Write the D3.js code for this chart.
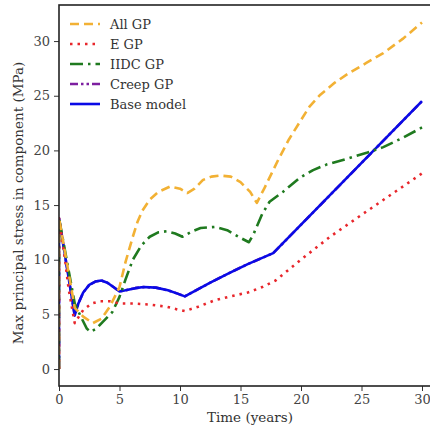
<!DOCTYPE html>
<html><head><meta charset="utf-8">
<script src="https://cdn.jsdelivr.net/npm/d3@7"></script>
<style>body{margin:0;background:#fff}svg{display:block}</style>
</head><body><svg id="c" width="430" height="431"></svg>
<script>
const xTicks = [0, 5, 10, 15, 20, 25, 30];
const yTicks = [0, 5, 10, 15, 20, 25, 30];

const timeAllGP = [0, 0, 1.3, 2.0, 2.8, 3.5, 4.2, 5.0, 5.5, 6.1, 6.5, 6.9, 7.5, 8.2, 9.2, 10.0, 10.6, 11.2, 11.9, 12.6, 13.3, 14.2, 15.0, 15.8, 16.35, 17.0, 18.1, 19.0, 19.9, 20.7, 21.6, 22.8, 24.0, 25.4, 26.8, 28.4, 30];
const stressAllGP = [0, 13.8, 5.6, 4.8, 4.2, 4.6, 5.7, 7.5, 9.8, 12.1, 13.5, 14.5, 15.5, 16.2, 16.7, 16.5, 16.1, 16.5, 17.3, 17.6, 17.7, 17.6, 17.1, 16.2, 15.2, 16.6, 19.1, 21.0, 22.6, 24.0, 25.1, 26.2, 27.1, 28.0, 28.9, 30.2, 31.7];

const timeEGP = [0, 0, 0.5, 0.8, 1.3, 1.7, 2.0, 2.7, 3.4, 4.2, 5.0, 6.1, 7.5, 8.9, 9.8, 10.4, 11.5, 12.9, 14.0, 15.6, 16.8, 17.9, 20.1, 22.4, 25.0, 27.5, 30];
const stressEGP = [0, 13.8, 10.0, 7.3, 4.2, 4.9, 5.4, 6.0, 6.2, 6.2, 6.0, 6.0, 5.9, 5.7, 5.45, 5.3, 5.7, 6.3, 6.6, 7.0, 7.5, 8.1, 10.1, 12.1, 14.1, 16.0, 17.9];

const timeIIDCGP = [0, 0, 1.3, 1.8, 2.3, 2.6, 3.1, 3.6, 4.4, 5.0, 5.5, 6.1, 6.8, 7.5, 8.2, 8.9, 9.6, 10.2, 11.0, 11.7, 12.9, 13.9, 15.0, 15.7, 16.1, 16.8, 17.4, 18.5, 19.9, 21.0, 22.1, 24.0, 25.5, 26.8, 28.5, 30];
const stressIIDCGP = [0, 13.8, 6.0, 4.8, 3.7, 3.4, 3.7, 4.3, 5.2, 6.6, 8.2, 10.0, 11.3, 12.1, 12.5, 12.6, 12.4, 12.1, 12.6, 12.9, 13.0, 12.7, 12.0, 11.6, 12.4, 14.2, 15.3, 16.2, 17.5, 18.2, 18.7, 19.3, 19.8, 20.3, 21.2, 22.1];

const timeBase = [0, 0, 1.3, 1.6, 2.0, 2.5, 3.0, 3.5, 4.0, 4.5, 5.0, 5.5, 6.3, 7.0, 8.0, 9.0, 9.8, 10.4, 12.5, 14.1, 15.6, 17.7, 30];
const stressBase = [0, 13.8, 4.9, 6.0, 7.0, 7.7, 8.0, 8.1, 7.9, 7.5, 7.1, 7.2, 7.4, 7.5, 7.45, 7.2, 6.9, 6.65, 7.9, 8.8, 9.6, 10.6, 24.5];

const timeCreepGP = timeBase;
const stressCreepGP = stressBase;

const seriesNames = ["All GP", "E GP", "IIDC GP", "Creep GP", "Base model"];

const svg = d3.select("#c");
const L = 59, R = 441, T = 5, B = 386;
const x = d3.scaleLinear().domain([0, 31.57]).range([L, R]);
const y = d3.scaleLinear().domain([-1.55, 33.3]).range([B, T]);
const font = "DejaVu Serif";

svg.append("clipPath").attr("id", "clip").append("rect")
  .attr("x", L).attr("y", T).attr("width", R - L).attr("height", B - T);

const styles = [
  {t: timeAllGP, s: stressAllGP, color: "#f2b134", dash: "9,5", w: 2.6},
  {t: timeEGP, s: stressEGP, color: "#e8262b", dash: "2.5,5", w: 2.6},
  {t: timeIIDCGP, s: stressIIDCGP, color: "#1f7a1f", dash: "13,5,2.5,5", w: 2.6},
  {t: timeCreepGP, s: stressCreepGP, color: "#7d1fa0", dash: "8,3,2.5,3,2.5,3", w: 2.6},
  {t: timeBase, s: stressBase, color: "#0a0ae6", dash: null, w: 2.6}
];

const line = d3.line().x(d => x(d[0])).y(d => y(d[1]));
const g = svg.append("g").attr("clip-path", "url(#clip)");
[3, 4, 2, 1, 0].forEach(i => {
  const st = styles[i];
  g.append("path").datum(st.t.map((t, k) => [t, st.s[k]]))
    .attr("d", line).attr("fill", "none").attr("stroke", st.color)
    .attr("stroke-width", st.w).attr("stroke-dasharray", st.dash)
    .attr("stroke-linejoin", "round");
});

const xa = svg.append("g").attr("transform", `translate(0,${B})`)
  .call(d3.axisBottom(x).tickValues(xTicks).tickSize(5).tickPadding(4));
const ya = svg.append("g").attr("transform", `translate(${L},0)`)
  .call(d3.axisLeft(y).tickValues(yTicks).tickSize(5).tickPadding(4));
[xa, ya].forEach(a => {
  a.select(".domain").remove();
  a.selectAll("line").attr("stroke", "#333").attr("stroke-width", 1);
  a.selectAll("text").attr("font-family", font).attr("font-size", 13).attr("fill", "#444");
});
svg.append("rect").attr("x", L).attr("y", T).attr("width", R - L).attr("height", B - T)
  .attr("fill", "none").attr("stroke", "#222").attr("stroke-width", 1.6);

svg.append("text").attr("x", 250).attr("y", 422).attr("text-anchor", "middle")
  .attr("font-family", font).attr("font-size", 13.5).attr("fill", "#333").text("Time (years)");
svg.append("text").attr("transform", "translate(23,203) rotate(-90)").attr("text-anchor", "middle")
  .attr("font-family", font).attr("font-size", 13.5).attr("fill", "#333")
  .text("Max principal stress in component (MPa)");

const leg = svg.append("g");
const legY = [24, 44, 64, 84, 104];
seriesNames.forEach((n, i) => {
  const st = styles[i];
  leg.append("line").attr("x1", 70).attr("x2", 100).attr("y1", legY[i]).attr("y2", legY[i])
    .attr("stroke", st.color).attr("stroke-width", st.w).attr("stroke-dasharray", st.dash);
  leg.append("text").attr("x", 110).attr("y", legY[i]).attr("dy", "0.35em")
    .attr("font-family", font).attr("font-size", 13).attr("fill", "#333").text(n);
});
</script></body></html>
